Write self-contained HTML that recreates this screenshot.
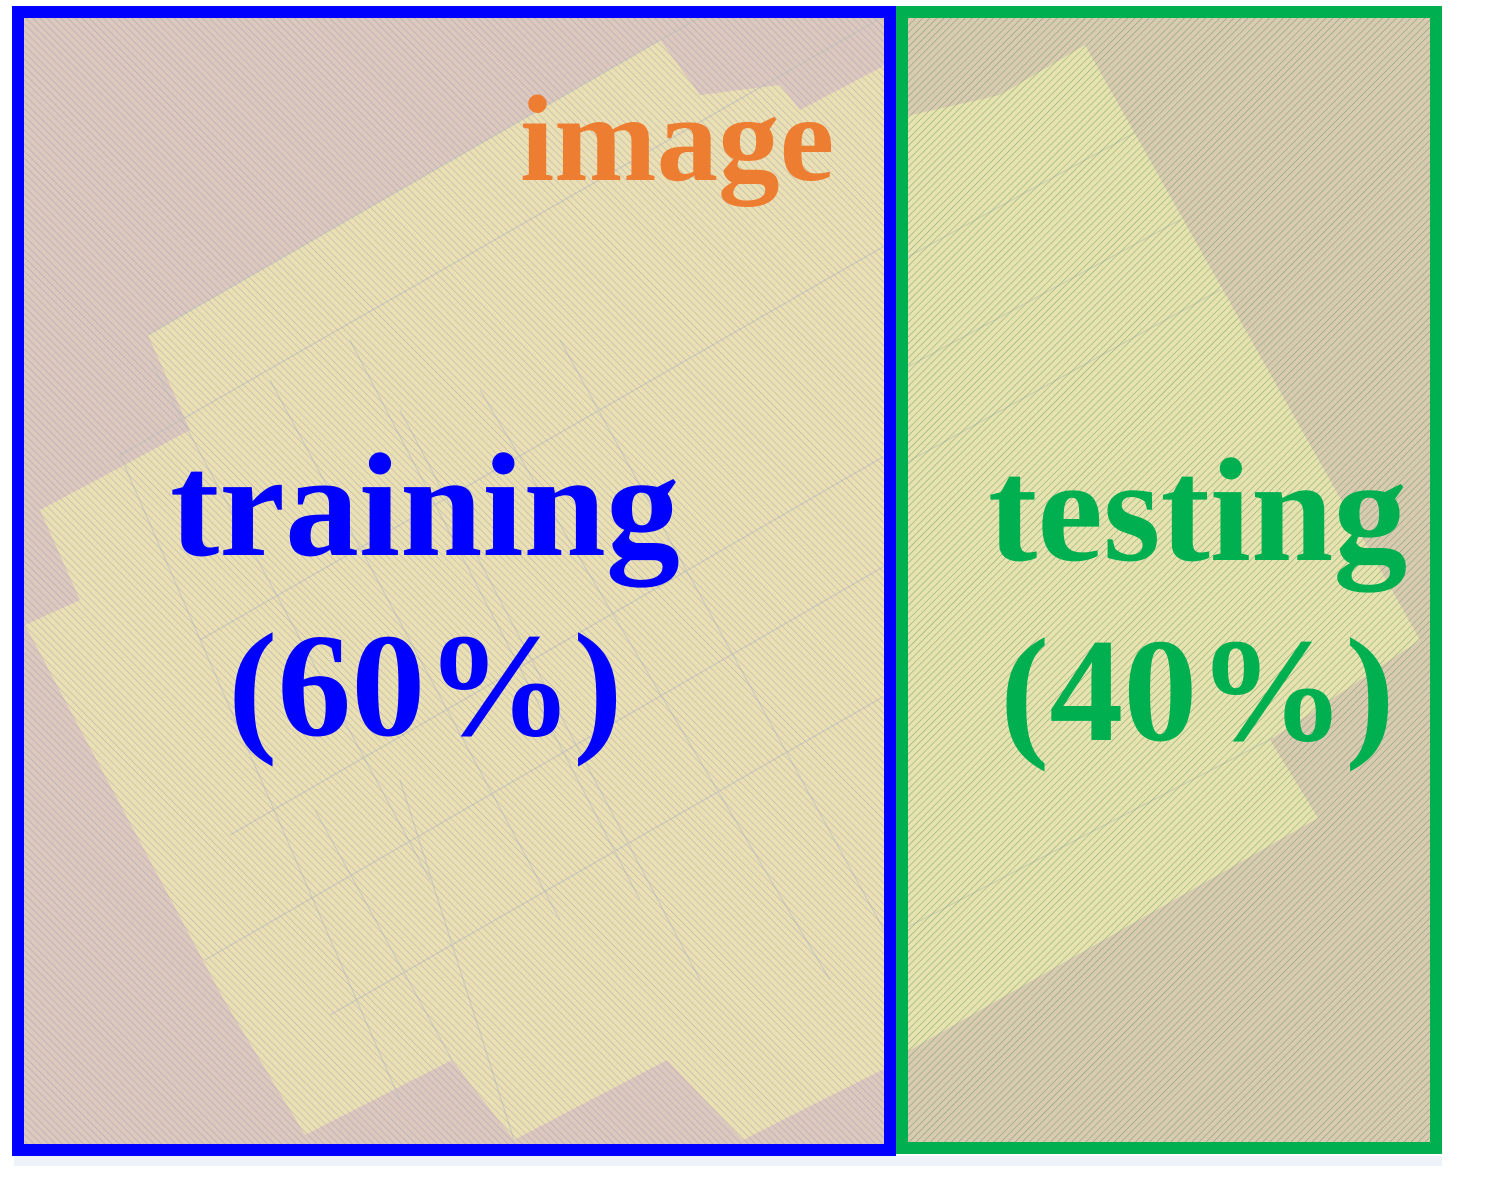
<!DOCTYPE html>
<html><head><meta charset="utf-8"><style>
html,body{margin:0;padding:0;background:#fff;width:1486px;height:1178px;overflow:hidden}
svg{display:block}
text{font-family:"Liberation Serif",serif;font-weight:bold}
</style></head><body>
<svg width="1486" height="1178" viewBox="0 0 1486 1178" xmlns="http://www.w3.org/2000/svg">
<defs>
<pattern id="hl" width="5" height="5" patternUnits="userSpaceOnUse" patternTransform="rotate(-45)">
<line x1="0" y1="0" x2="0" y2="5" stroke="#8a88b8" stroke-width="1.2" opacity="0.55"/>
</pattern>
<pattern id="hr" width="5" height="5" patternUnits="userSpaceOnUse" patternTransform="rotate(45)">
<line x1="0" y1="0" x2="0" y2="5" stroke="#3f8a5a" stroke-width="1.2" opacity="0.6"/>
</pattern>
<clipPath id="cl"><rect x="18" y="12" width="872" height="1138"/></clipPath>
<clipPath id="cr"><rect x="902" y="12" width="534" height="1136"/></clipPath>
</defs>
<rect x="14" y="1156" width="1428" height="10" fill="#eef2f9"/>
<g clip-path="url(#cl)">
<rect x="0" y="0" width="900" height="1178" fill="#dcc8bc"/>
<polygon points="148,335 660,40 700,95 780,85 800,110 895,60 1000,95 1085,45 1420,640 1270,740 1310,820 910,1050 886,1068 743,1140 667,1060 514,1140 452,1060 305,1135 224,1000 25,625 80,600 40,510 190,430" fill="#ebe0b2"/>
<g stroke="#c4c4bc" stroke-width="1.3" fill="none" opacity="0.7">
<line x1="148" y1="335" x2="895" y2="-95"/>
<line x1="120" y1="455" x2="895" y2="10"/>
<line x1="200" y1="640" x2="895" y2="240"/>
<line x1="230" y1="835" x2="895" y2="450"/>
<line x1="205" y1="960" x2="895" y2="560"/>
<line x1="330" y1="1015" x2="895" y2="690"/>
<line x1="150" y1="360" x2="430" y2="880"/>
<line x1="270" y1="380" x2="560" y2="920"/>
<line x1="400" y1="410" x2="700" y2="980"/>
<line x1="480" y1="390" x2="830" y2="980"/>
<line x1="350" y1="340" x2="640" y2="900"/>
<line x1="560" y1="340" x2="895" y2="950"/>
<line x1="120" y1="455" x2="400" y2="1100"/>
<line x1="315" y1="810" x2="452" y2="1060"/>
<line x1="400" y1="780" x2="514" y2="1140"/>
</g>
<rect x="0" y="0" width="900" height="1178" fill="url(#hl)"/>
</g>
<g clip-path="url(#cr)">
<rect x="890" y="0" width="600" height="1178" fill="#dacab0"/>
<polygon points="890,120 1000,95 1085,45 1420,640 1270,740 1318,818 910,1050 890,1060" fill="#e8e3ae"/>
<g stroke="#cfcfae" stroke-width="1.3" fill="none">
<line x1="902" y1="260" x2="1140" y2="130"/>
<line x1="902" y1="370" x2="1180" y2="220"/>
<line x1="902" y1="465" x2="1220" y2="290"/>
<line x1="902" y1="930" x2="1273" y2="738"/>
</g>
<rect x="890" y="0" width="600" height="1178" fill="url(#hr)"/>
</g>
<rect x="18" y="12" width="872" height="1138" fill="none" stroke="#0000ff" stroke-width="12"/>
<rect x="902" y="12" width="534" height="1136" fill="none" stroke="#00b050" stroke-width="12"/>
<text x="520" y="180" font-size="123" fill="#ed7d31">image</text>
<text x="170" y="555" font-size="148" fill="#0000ff">training</text>
<text x="228" y="735" font-size="148" fill="#0000ff">(60%)</text>
<text x="988" y="560" font-size="148" fill="#00b050">testing</text>
<text x="1000" y="740" font-size="148" fill="#00b050">(40%)</text>
</svg>
</body></html>
